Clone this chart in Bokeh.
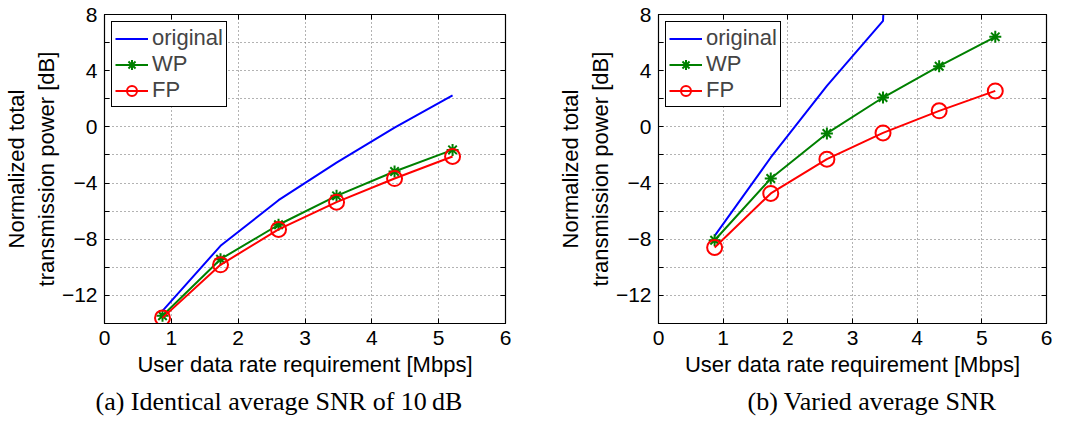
import math
from bokeh.plotting import figure
from bokeh.models import LinearAxis, FixedTicker, Range1d, Title
from bokeh.layouts import row
from bokeh.embed import file_html
from bokeh.resources import INLINE

# ---- data ----
rate = [0.868, 1.736, 2.604, 3.472, 4.340, 5.208]

a_original = [-13.1, -8.47, -5.22, -2.54, -0.05, 2.25]
a_wp = [-13.45, -9.42, -6.97, -4.91, -3.18, -1.64]
a_fp = [-13.6, -9.82, -7.30, -5.36, -3.68, -2.11]

b_original = [-7.76, -2.18, 2.92, 7.54, 100.0, float("nan")]
b_wp = [-8.07, -3.68, -0.47, 2.09, 4.32, 6.41]
b_fp = [-8.59, -4.74, -2.30, -0.43, 1.14, 2.56]

x_ticks = [0, 1, 2, 3, 4, 5, 6]
y_ticks = [-12, -10, -8, -6, -4, -2, 0, 2, 4, 6, 8]
y_labels = {-12: "\u221212", -10: "", -8: "\u22128", -6: "", -4: "\u22124", -2: "",
            0: "0", 2: "", 4: "4", 6: "", 8: "8"}

captions = ["(a)  Identical average SNR of 10\u2009dB", "(b)  Varied average SNR"]

SANS = "Liberation Sans"
SERIF = "Liberation Serif"


def make(caption, orig, wp, fp, width, bl, br, cap_offset):
    p = figure(width=width, height=421, output_backend="svg", toolbar_location=None,
               x_range=Range1d(0, 6), y_range=Range1d(-14, 8),
               min_border_left=bl, min_border_right=br, min_border_top=14,
               min_border_bottom=98)
    p.background_fill_color = "white"
    p.border_fill_color = "white"
    p.outline_line_color = "black"
    p.outline_line_width = 1.2

    p.line(rate, orig, color="#0000ff", line_width=2, legend_label="original")
    p.line(rate, wp, color="#008000", line_width=2, legend_label="WP")
    p.scatter(rate, wp, marker="asterisk", size=12, line_color="#008000", line_width=2,
              legend_label="WP")
    p.line(rate, fp, color="#ff0000", line_width=2, legend_label="FP")
    p.scatter(rate, fp, marker="circle", size=15, line_color="#ff0000", fill_color=None,
              line_width=2, legend_label="FP")

    p.xaxis.ticker = FixedTicker(ticks=x_ticks)
    p.yaxis.ticker = FixedTicker(ticks=y_ticks)
    p.yaxis.major_label_overrides = y_labels
    p.xaxis.axis_label = "User data rate requirement [Mbps]"
    p.yaxis.axis_label = "Normalized total\ntransmission power [dB]"
    for ax in (p.xaxis, p.yaxis):
        ax.axis_label_text_font = SANS
        ax.axis_label_text_font_size = "22px"
        ax.axis_label_text_font_style = "normal"
        ax.axis_label_text_color = "black"
        ax.major_label_text_font = SANS
        ax.major_label_text_font_size = "21px"
        ax.major_label_text_color = "black"
        ax.major_tick_in = 5
        ax.major_tick_out = 0
        ax.minor_tick_in = 0
        ax.minor_tick_out = 0
        ax.axis_line_color = "black"
        ax.major_tick_line_color = "black"
    p.xaxis.major_label_standoff = 7
    p.xaxis.axis_label_standoff = 4
    p.yaxis.major_label_standoff = 7
    p.yaxis.axis_label_standoff = 0

    for loc, tk in (("right", y_ticks), ("above", x_ticks)):
        ax = LinearAxis(ticker=FixedTicker(ticks=tk),
                        major_label_overrides={t: "" for t in tk},
                        major_tick_in=5, major_tick_out=0, minor_tick_in=0,
                        minor_tick_out=0, major_label_standoff=0)
        p.add_layout(ax, loc)

    p.xgrid.ticker = FixedTicker(ticks=x_ticks)
    p.ygrid.ticker = FixedTicker(ticks=y_ticks)
    p.grid.grid_line_color = "#666666"
    p.grid.grid_line_dash = "1 3"
    p.grid.grid_line_width = 1

    lg = p.legend[0]
    lg.location = "top_left"
    lg.label_text_font = SANS
    lg.label_text_font_size = "22px"
    lg.border_line_color = "black"
    lg.border_line_width = 1
    lg.border_line_alpha = 1
    lg.background_fill_alpha = 1
    lg.margin = 7
    lg.padding = 3
    lg.spacing = 0
    lg.glyph_width = 33
    lg.glyph_height = 25
    lg.label_height = 25
    lg.label_standoff = 4

    p.add_layout(Title(text=caption, text_font=SERIF, text_font_size="26px",
                       text_font_style="normal", text_color="black", align="left",
                       offset=cap_offset, standoff=10), "below")
    return p


p1 = make(captions[0], a_original, a_wp, a_fp, 536, 102, 31, -9)
p2 = make(captions[1], b_original, b_wp, b_fp, 537, 122, 27, 89)
lay = row(p1, p2)
open("out.html", "w").write(file_html(lay, INLINE))
